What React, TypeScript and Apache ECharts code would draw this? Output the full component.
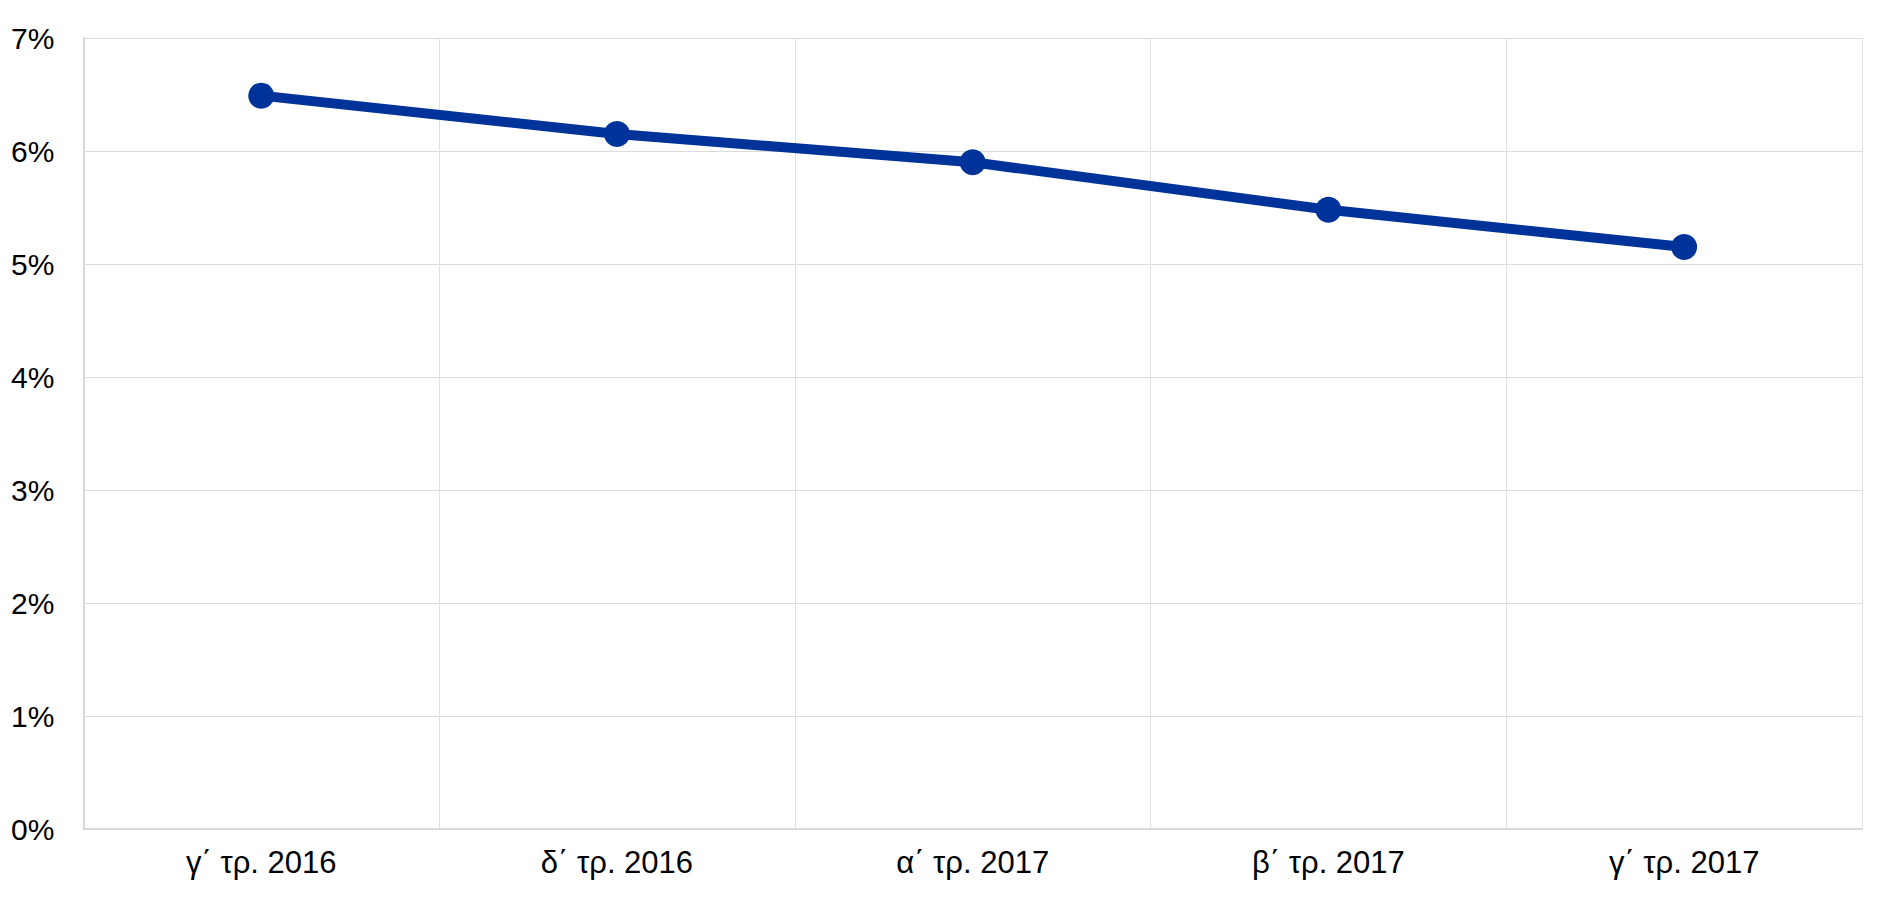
import React, { useEffect, useRef } from "react";
import * as echarts from "echarts";

const categories = ["γ΄ τρ. 2016", "δ΄ τρ. 2016", "α΄ τρ. 2017", "β΄ τρ. 2017", "γ΄ τρ. 2017"];
const values = [6.49, 6.15, 5.9, 5.48, 5.15];
const yTicks = { min: 0, max: 7, interval: 1 };

export default function App() {
  const ref = useRef<HTMLDivElement>(null);
  useEffect(() => {
    if (!ref.current) return;
    const chart = echarts.init(ref.current, null, { renderer: "svg" });
    chart.setOption({
      animation: false,
      backgroundColor: "#ffffff",
      grid: { left: 73, right: 20, top: 30, bottom: 63, containLabel: false },
      xAxis: {
        type: "category",
        data: categories,
        boundaryGap: true,
        axisLine: { show: true, lineStyle: { color: "#d9d9d9", width: 2 } },
        axisTick: { show: false },
        splitLine: { show: true, lineStyle: { color: "#e0e0e0", width: 1 } },
        axisLabel: {
          color: "#000000",
          fontFamily: "'Liberation Sans', Arial, sans-serif",
          fontSize: 31,
          margin: 18,
        },
      },
      yAxis: {
        type: "value",
        min: yTicks.min,
        max: yTicks.max,
        interval: yTicks.interval,
        axisLine: { show: true, lineStyle: { color: "#d9d9d9", width: 2 } },
        axisTick: { show: false },
        splitLine: { show: true, lineStyle: { color: "#dcdcdc", width: 1 } },
        axisLabel: {
          color: "#000000",
          fontFamily: "'Liberation Sans', Arial, sans-serif",
          fontSize: 30,
          margin: 29,
          formatter: (v: number) => `${v}%`,
        },
      },
      series: [
        {
          type: "line",
          data: values,
          symbol: "circle",
          symbolSize: 26,
          itemStyle: { color: "#003399" },
          lineStyle: { color: "#003399", width: 10 },
          z: 3,
        },
      ],
    });
    return () => chart.dispose();
  }, []);
  return <div ref={ref} style={{ width: 1874, height: 884 }} />;
}
